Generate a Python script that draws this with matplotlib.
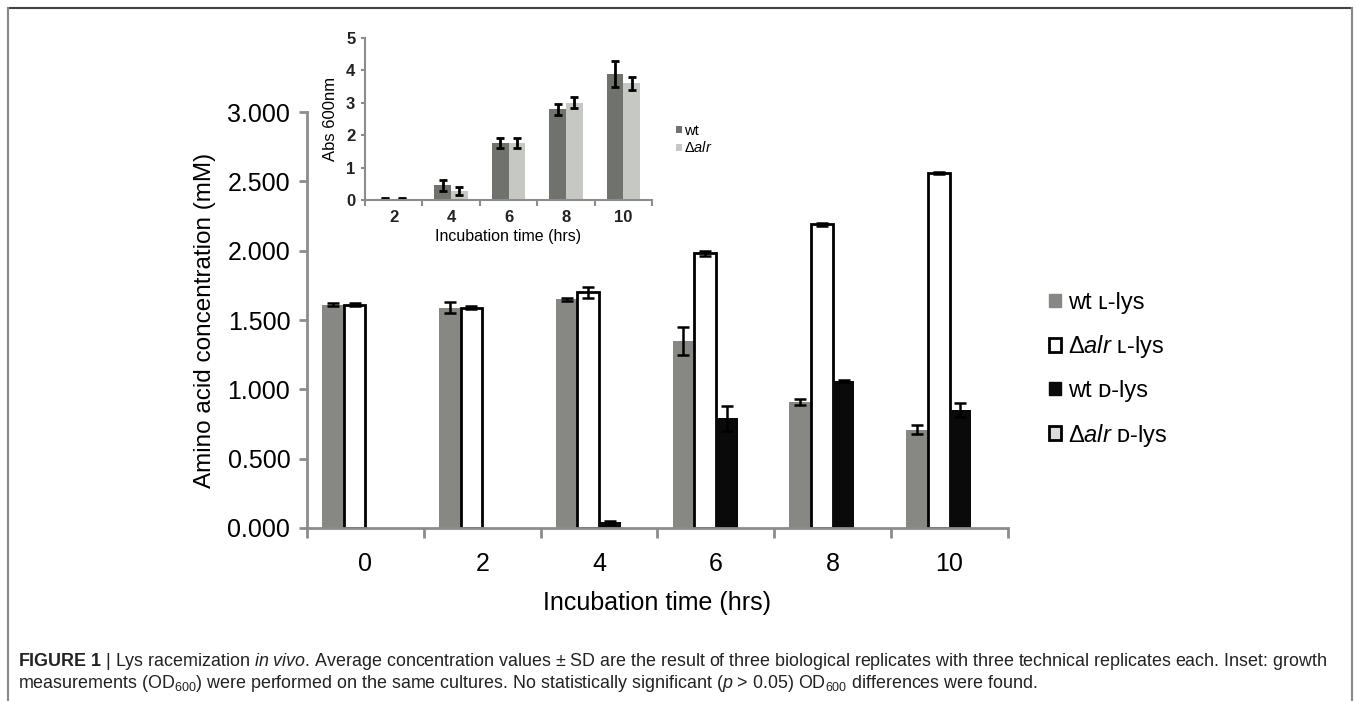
import numpy as np
import matplotlib
matplotlib.use("Agg")
import matplotlib.pyplot as plt
from matplotlib.patches import Patch
from matplotlib.lines import Line2D

plt.rcParams['font.family'] = ['Liberation Sans', 'DejaVu Sans']
plt.rcParams['mathtext.fontset'] = 'custom'
plt.rcParams['mathtext.rm'] = 'Liberation Sans'
plt.rcParams['mathtext.it'] = 'Liberation Sans:italic'
plt.rcParams['mathtext.bf'] = 'Liberation Sans:bold'

# --- main chart data (mM) ---
times = ["0", "2", "4", "6", "8", "10"]
wt_L = [1.61, 1.59, 1.65, 1.35, 0.91, 0.71]
wt_L_sd = [0.01, 0.04, 0.01, 0.10, 0.02, 0.03]
alr_L = [1.61, 1.59, 1.70, 1.98, 2.19, 2.56]
alr_L_sd = [0.01, 0.01, 0.04, 0.02, 0.01, 0.01]
wt_D = [0.0, 0.0, 0.04, 0.79, 1.06, 0.85]
wt_D_sd = [np.nan, np.nan, 0.01, 0.09, 0.01, 0.05]
alr_D = [0.0, 0.0, 0.0, 0.0, 0.0, 0.0]

# --- inset data (Abs 600nm) ---
inset_times = ["2", "4", "6", "8", "10"]
od_wt = [0.04, 0.45, 1.75, 2.80, 3.90]
od_wt_sd = [0.02, 0.17, 0.15, 0.17, 0.40]
od_alr = [0.04, 0.28, 1.75, 3.00, 3.60]
od_alr_sd = [0.02, 0.12, 0.15, 0.17, 0.20]

GRAY = "#878883"
AXC = "#8c8c8c"

fig = plt.figure(figsize=(13.57, 7.01), dpi=100)

# --- main axes ---
ax = fig.add_axes([0.2262, 0.2468, 0.5166, 0.5934])
x = np.arange(len(times))
w = 0.185
ekw = dict(ecolor="black", elinewidth=1.8, capsize=4, capthick=1.8)
ax.bar(x - 1.5 * w, wt_L, w, yerr=wt_L_sd, color=GRAY, error_kw=ekw, zorder=2)
ax.bar(x - 0.5 * w, alr_L, w, yerr=alr_L_sd, color="white", edgecolor="black",
       linewidth=2, error_kw=ekw, zorder=2)
ax.bar(x + 0.5 * w, wt_D, w, color="#0a0a0a", zorder=2)
ax.errorbar(x + 0.5 * w, wt_D, yerr=wt_D_sd, fmt="none", zorder=3, **ekw)
ax.bar(x + 1.5 * w, alr_D, w, color="#dcdcdc", linewidth=0, zorder=2)

ax.set_xlim(-0.5, len(times) - 0.5)
ax.set_ylim(0, 3.0)
ax.set_yticks(np.arange(0, 3.01, 0.5))
ax.set_yticklabels([f"{v:.3f}" for v in np.arange(0, 3.01, 0.5)], fontsize=18)
ax.set_xticks(x)
ax.set_xticklabels(times, fontsize=18)
ax.set_xticks(np.arange(-0.5, len(times)), minor=True)
ax.tick_params(axis="x", which="major", length=0, pad=17)
ax.tick_params(axis="x", which="minor", length=7, width=2, color=AXC, direction="out")
ax.tick_params(axis="y", length=6, width=2, color=AXC, pad=6)
for s in ["top", "right"]:
    ax.spines[s].set_visible(False)
for s in ["left", "bottom"]:
    ax.spines[s].set_color(AXC)
    ax.spines[s].set_linewidth(2)
ax.set_ylabel("Amino acid concentration (mM)", fontsize=17.5, labelpad=8)
ax.set_xlabel("Incubation time (hrs)", fontsize=18, labelpad=11)

handles = [Patch(facecolor=GRAY, edgecolor=GRAY),
           Patch(facecolor="white", edgecolor="black", linewidth=2),
           Patch(facecolor="#0a0a0a", edgecolor="#0a0a0a"),
           Patch(facecolor="#dcdcdc", edgecolor="black", linewidth=2)]
labels = ["wt \u029f-lys", r"$\Delta\mathit{alr}$" + " \u029f-lys",
          "wt \u1d05-lys", r"$\Delta\mathit{alr}$" + " \u1d05-lys"]
fig.legend(handles, labels, loc="center left", bbox_to_anchor=(0.7645, 0.472),
           frameon=False, fontsize=17, handlelength=0.5, handleheight=0.5,
           handletextpad=0.3, labelspacing=0.83, borderpad=0)

# --- inset ---
ins = fig.add_axes([0.269, 0.7147, 0.2115, 0.2311])
xi = np.arange(len(inset_times))
wi = 0.29
ekw2 = dict(ecolor="black", elinewidth=2, capsize=3, capthick=2)
ins.bar(xi - wi / 2, od_wt, wi, yerr=od_wt_sd, color="#70726d", error_kw=ekw2)
ins.bar(xi + wi / 2, od_alr, wi, yerr=od_alr_sd, color="#c6c8c3", error_kw=ekw2)
ins.set_xlim(-0.5, len(inset_times) - 0.5)
ins.set_ylim(0, 5)
ins.set_yticks(range(6))
ins.set_xticks(xi)
ins.set_xticklabels(inset_times)
ins.set_xticks(np.arange(-0.5, len(inset_times)), minor=True)
ins.tick_params(axis="x", which="major", length=0, pad=7, labelsize=12)
ins.tick_params(axis="x", which="minor", length=4, width=1.5, color=AXC)
ins.tick_params(axis="y", length=3, width=1.5, color=AXC, labelsize=12, pad=4)
for lbl in ins.get_xticklabels() + ins.get_yticklabels():
    lbl.set_fontweight("bold")
    lbl.set_color("#222222")
for s in ["top", "right"]:
    ins.spines[s].set_visible(False)
for s in ["left", "bottom"]:
    ins.spines[s].set_color(AXC)
    ins.spines[s].set_linewidth(1.5)
ins.set_ylabel("Abs 600nm", fontsize=12, labelpad=6)
ins.set_xlabel("Incubation time (hrs)", fontsize=11.5, labelpad=3)
ins_handles = [Patch(facecolor="#70726d"), Patch(facecolor="#c6c8c3")]
fig.legend(ins_handles, ["wt", r"$\Delta\mathit{alr}$"], loc="center left",
           bbox_to_anchor=(0.493, 0.801), frameon=False, fontsize=10.5,
           handlelength=0.4, handleheight=0.4, handletextpad=0.15,
           labelspacing=0.2, borderpad=0)

# --- frame lines ---
fig.add_artist(Line2D([0.0059, 0.9963], [0.9886, 0.9886], color="#444444", lw=1.5))
fig.add_artist(Line2D([0.0059, 0.0059], [0.0, 0.9886], color="#888888", lw=1.5))
fig.add_artist(Line2D([0.9963, 0.9963], [0.0, 0.9886], color="#888888", lw=1.5))

# --- caption ---
cap1 = (r"$\mathbf{FIGURE\ 1}$ | Lys racemization $\mathit{in\ vivo}$. Average concentration "
        "values \u00b1 SD are the result of three biological replicates with three "
        "technical replicates each. Inset: growth")
cap2 = (r"measurements (OD$_{600}$) were performed on the same cultures. No statistically "
        r"significant ($\mathit{p}$ > 0.05) OD$_{600}$ differences were found.")
fig.text(0.0133, 1 - 662 / 701, cap1, fontsize=12.9, color="#222222", va="center")
fig.text(0.0133, 1 - 684 / 701, cap2, fontsize=12.9, color="#222222", va="center")

fig.savefig("out.png", dpi=100)
